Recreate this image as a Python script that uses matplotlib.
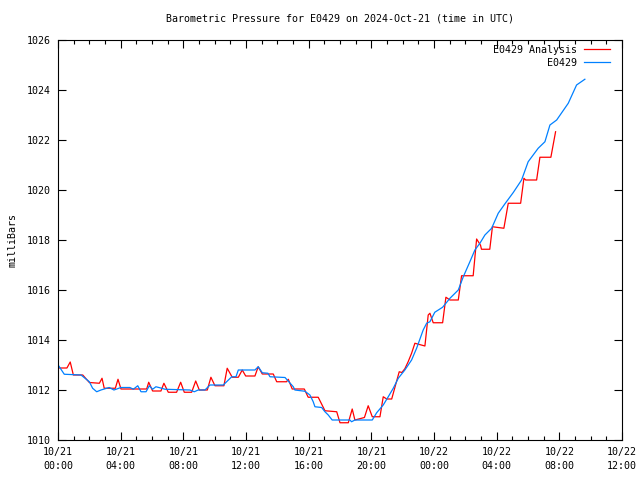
import matplotlib
matplotlib.use("Agg")
import matplotlib.pyplot as plt
from matplotlib.ticker import MultipleLocator

# hours since 2024-10-21 00:00 UTC, pressure in mb
obs_hours = [0.04, 0.40, 1.47, 2.00, 2.21, 2.47, 2.74, 3.27, 3.57, 4.02, 4.59, 4.81,
             5.09, 5.30, 5.62, 5.83, 6.04, 6.25, 6.62, 6.83, 8.42, 8.70, 8.95, 9.38,
             9.70, 10.55, 11.09, 11.36, 11.51, 12.57, 12.78, 13.04, 13.40, 13.53, 14.49,
             15.02, 15.12, 15.76, 16.08, 16.29, 16.40, 16.83, 17.04, 17.25, 17.50, 18.63,
             18.74, 18.95, 20.06, 20.34, 20.76, 21.08, 21.40, 21.72, 22.14, 22.57, 22.89,
             23.31, 23.53, 23.74, 24.05, 24.55, 25.02, 25.55, 25.87, 26.29, 26.61, 26.93,
             27.25, 27.68, 28.10, 28.53, 29.06, 29.59, 30.01, 30.65, 31.08, 31.40, 31.83,
             32.57, 33.10, 33.63]
obs_mb = [1012.97, 1012.63, 1012.60, 1012.33, 1012.07, 1011.93, 1012.00, 1012.10, 1012.00,
          1012.10, 1012.10, 1012.03, 1012.17, 1011.93, 1011.93, 1012.17, 1012.03, 1012.13,
          1012.07, 1012.03, 1012.00, 1011.93, 1012.00, 1012.00, 1012.20, 1012.20, 1012.53,
          1012.53, 1012.80, 1012.80, 1012.93, 1012.69, 1012.67, 1012.53, 1012.50, 1012.13,
          1012.00, 1011.95, 1011.80, 1011.53, 1011.33, 1011.30, 1011.13, 1011.00, 1010.80,
          1010.80, 1010.73, 1010.80, 1010.80, 1011.09, 1011.40, 1011.73, 1012.07, 1012.47,
          1012.80, 1013.20, 1013.67, 1014.40, 1014.67, 1014.73, 1015.11, 1015.31, 1015.67,
          1016.00, 1016.53, 1017.13, 1017.60, 1017.87, 1018.20, 1018.47, 1019.07, 1019.45,
          1019.90, 1020.40, 1021.13, 1021.67, 1021.93, 1022.60, 1022.80, 1023.47, 1024.20,
          1024.43]

ana_hours = [0.06, 0.57, 0.78, 0.98, 1.58, 2.00, 2.64, 2.81, 2.95, 3.66, 3.83, 4.02,
             5.66, 5.79, 6.04, 6.57, 6.76, 7.04, 7.57, 7.83, 8.06, 8.53, 8.79, 9.02,
             9.53, 9.76, 10.02, 10.59, 10.80, 11.12, 11.51, 11.76, 11.98, 12.57, 12.78,
             13.04, 13.74, 13.96, 14.59, 14.70, 14.95, 15.72, 15.97, 16.61, 17.04, 17.79,
             18.00, 18.53, 18.78, 18.95, 19.56, 19.80, 20.06, 20.55, 20.76, 20.98, 21.30,
             21.78, 21.95, 22.14, 22.35, 22.57, 22.78, 23.42, 23.63, 23.74, 23.95, 24.55,
             24.76, 25.02, 25.55, 25.76, 26.50, 26.72, 26.97, 27.03, 27.56, 27.73, 28.46,
             28.74, 29.53, 29.74, 29.85, 30.55, 30.76, 31.46, 31.76]
ana_mb = [1012.88, 1012.88, 1013.12, 1012.60, 1012.60, 1012.30, 1012.27, 1012.47, 1012.07,
          1012.07, 1012.43, 1012.04, 1012.04, 1012.31, 1011.96, 1011.96, 1012.27, 1011.91,
          1011.91, 1012.31, 1011.91, 1011.91, 1012.36, 1012.00, 1012.00, 1012.51, 1012.17,
          1012.17, 1012.87, 1012.51, 1012.51, 1012.80, 1012.56, 1012.56, 1012.93, 1012.64,
          1012.64, 1012.33, 1012.33, 1012.43, 1012.04, 1012.04, 1011.71, 1011.71, 1011.17,
          1011.13, 1010.69, 1010.69, 1011.24, 1010.80, 1010.90, 1011.37, 1010.93, 1010.93,
          1011.73, 1011.64, 1011.64, 1012.73, 1012.70, 1012.85, 1013.13, 1013.47, 1013.87,
          1013.76, 1015.00, 1015.07, 1014.69, 1014.69, 1015.71, 1015.60, 1015.60, 1016.57,
          1016.57, 1018.04, 1017.79, 1017.63, 1017.63, 1018.53, 1018.47, 1019.47, 1019.47,
          1020.47, 1020.40, 1020.40, 1021.31, 1021.31, 1022.33]

xtick_hours = [0, 4, 8, 12, 16, 20, 24, 28, 32, 36]
xtick_labels = ["10/21\n00:00", "10/21\n04:00", "10/21\n08:00", "10/21\n12:00",
                "10/21\n16:00", "10/21\n20:00", "10/22\n00:00", "10/22\n04:00",
                "10/22\n08:00", "10/22\n12:00"]

plt.rcParams['font.family'] = ['DejaVu Sans Mono']
plt.rcParams['font.size'] = 7.2

fig = plt.figure(figsize=(6.4, 4.8), dpi=100)
ax = fig.add_axes([58 / 640, 40 / 480, 564 / 640, 400 / 480])

ax.plot(ana_hours, ana_mb, color='#ff0000', lw=0.9, label='E0429 Analysis')
ax.plot(obs_hours, obs_mb, color='#0080ff', lw=0.9, label='E0429')

ax.set_xlim(0, 36)
ax.set_ylim(1010, 1026)
ax.set_xticks(xtick_hours)
ax.set_xticklabels(xtick_labels, linespacing=1.5)
ax.xaxis.set_minor_locator(MultipleLocator(1))
ax.yaxis.set_major_locator(MultipleLocator(2))
ax.yaxis.set_minor_locator(MultipleLocator(2))

ax.tick_params(which='both', direction='in', top=True, right=True, color='black', width=0.8)
ax.tick_params(which='major', length=6, pad=5)
ax.tick_params(which='minor', length=3)
for s in ax.spines.values():
    s.set_linewidth(0.8)

ax.set_title('Barometric Pressure for E0429 on 2024-Oct-21 (time in UTC)',
             fontsize=7.2, pad=13)
ax.set_ylabel('milliBars', labelpad=7)

ax.legend(loc='upper right', bbox_to_anchor=(0.991, 1.006), frameon=False,
          markerfirst=False, handlelength=2.6, borderaxespad=0.3,
          labelspacing=0.3, handletextpad=0.7)

fig.savefig('out.png', dpi=100)
